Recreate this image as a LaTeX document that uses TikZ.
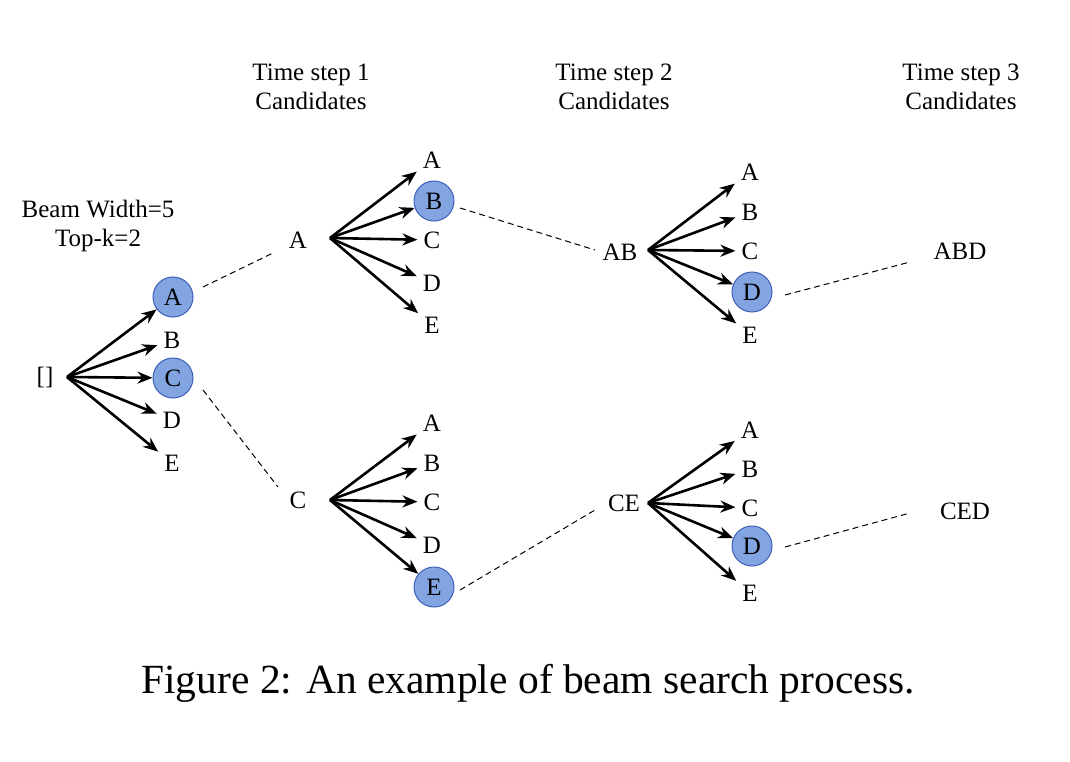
\documentclass[tikz,border=0pt]{standalone}
\usepackage{fontspec}
\setmainfont{Liberation Serif}
\usetikzlibrary{arrows.meta}
\begin{document}
\begin{tikzpicture}[x=1pt,y=-1pt,
  lab/.style={font=\fontsize{25}{28}\selectfont,inner sep=6pt},
  sel/.style={circle,draw={rgb,255:red,60;green,95;blue,185},line width=1pt,fill={rgb,255:red,130;green,165;blue,225},minimum size=40pt,inner sep=0pt,font=\fontsize{25}{28}\selectfont},
  arr/.style={-{Stealth[length=15pt,width=12pt]},line width=2.6pt},
  dsh/.style={dash pattern=on 6pt off 4pt,line width=1pt},
  hdr/.style={font=\fontsize{25}{29}\selectfont,align=center}]
\useasboundingbox (0,0) rectangle (1070,762);
\node[hdr] at (311,87) {Time step 1\\Candidates};
\node[hdr] at (614,87) {Time step 2\\Candidates};
\node[hdr] at (961,87) {Time step 3\\Candidates};
\node[hdr] at (98,226) {Beam Width=5\\Top-k=2};
% root
\node[lab,inner sep=2pt] (r) at (45,377) {[]};
\coordinate (rs) at (67,377);
\node[sel] (rA) at (173,297) {A};
\node[lab] (rB) at (172,340) {B};
\node[sel] (rC) at (173,378) {C};
\node[lab] (rD) at (172,420) {D};
\node[lab] (rE) at (172,463) {E};
\foreach \n in {rA,rB,rC,rD,rE} \draw[arr] (rs) -- (\n);
% A branch
\node[lab,inner sep=2pt] (a) at (298,240) {A};
\coordinate (as) at (330,238);
\node[lab] (aA) at (432,160) {A};
\node[sel] (aB) at (434,201) {B};
\node[lab] (aC) at (432,240) {C};
\node[lab] (aD) at (432,283) {D};
\node[lab] (aE) at (432,325) {E};
\foreach \n in {aA,aB,aC,aD,aE} \draw[arr] (as) -- (\n);
% C branch
\node[lab,inner sep=2pt] (c) at (298,500) {C};
\coordinate (cs) at (330,500);
\node[lab] (cA) at (432,423) {A};
\node[lab] (cB) at (432,463) {B};
\node[lab] (cC) at (432,502) {C};
\node[lab] (cD) at (432,545) {D};
\node[sel] (cE) at (434,587) {E};
\foreach \n in {cA,cB,cC,cD,cE} \draw[arr] (cs) -- (\n);
% AB branch
\node[lab,inner sep=2pt] (ab) at (620,252) {AB};
\coordinate (abs) at (648,250);
\node[lab] (abA) at (750,172) {A};
\node[lab] (abB) at (750,212) {B};
\node[lab] (abC) at (750,251) {C};
\node[sel] (abD) at (752,292) {D};
\node[lab] (abE) at (750,335) {E};
\foreach \n in {abA,abB,abC,abD,abE} \draw[arr] (abs) -- (\n);
% CE branch
\node[lab,inner sep=2pt] (ce) at (624,503) {CE};
\coordinate (ces) at (648,503);
\node[lab] (ceA) at (750,430) {A};
\node[lab] (ceB) at (750,469) {B};
\node[lab] (ceC) at (750,508) {C};
\node[sel] (ceD) at (752,546) {D};
\node[lab] (ceE) at (750,593) {E};
\foreach \n in {ceA,ceB,ceC,ceD,ceE} \draw[arr] (ces) -- (\n);
% results
\node[lab,inner sep=2pt] (abd) at (960,251) {ABD};
\node[lab,inner sep=2pt] (ced) at (965,511) {CED};
\coordinate (s1) at (203,287); \coordinate (t1) at (273,253);
\coordinate (s2) at (203,390); \coordinate (t2) at (278,487);
\coordinate (s3) at (460,208); \coordinate (t3) at (595,250);
\coordinate (s4) at (460,590); \coordinate (t4) at (595,510);
\coordinate (s5) at (785,295); \coordinate (t5) at (910,262);
\coordinate (s6) at (785,547); \coordinate (t6) at (910,513);
\foreach \i in {1,...,6} \draw[dsh] (s\i) -- (t\i);
\node[font=\fontsize{41.5}{46}\selectfont] (cap) at (528,683) {Figure 2: An example of beam search process.};
\end{tikzpicture}
\end{document}
